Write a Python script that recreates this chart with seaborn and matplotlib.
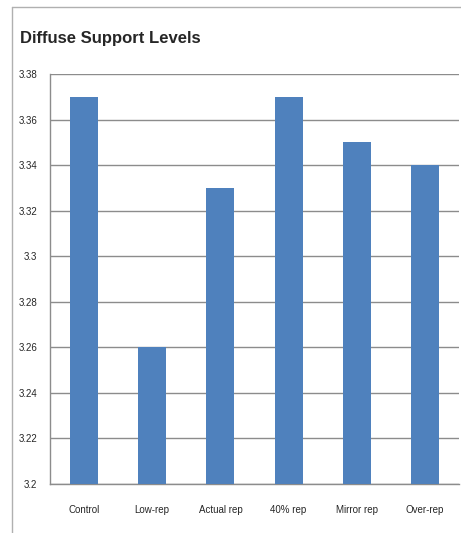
import matplotlib
matplotlib.use('Agg')
import matplotlib.pyplot as plt
import seaborn as sns
import pandas as pd
from matplotlib.lines import Line2D

# chart data
groups = ['Control', 'Low-rep', 'Actual rep', '40% rep', 'Mirror rep', 'Over-rep']
support = [3.37, 3.26, 3.33, 3.37, 3.35, 3.34]
yticks = [3.2, 3.22, 3.24, 3.26, 3.28, 3.3, 3.32, 3.34, 3.36, 3.38]

df = pd.DataFrame({'Group': groups, 'Support': support})

sns.set_style('white')
plt.rcParams['font.family'] = ['Liberation Sans', 'DejaVu Sans']

fig = plt.figure(figsize=(4.61, 5.33), dpi=100)
ax = fig.add_axes([0.1085, 0.092, 0.887, 0.769])

sns.barplot(x='Group', y='Support', data=df, color='#4F81BD', width=0.41,
            saturation=1, linewidth=0, ax=ax, zorder=3)

ax.set_ylim(3.2, 3.38)
ax.set_yticks(yticks)
ax.set_yticklabels(['%g' % t for t in yticks], fontsize=7)
ax.yaxis.grid(True, color='#8c8c8c', linewidth=1)
ax.set_axisbelow(True)
ax.set_xlim(-0.5, len(groups) - 0.5)
ax.tick_params(axis='x', length=0, labelsize=7, pad=15)
ax.tick_params(axis='y', length=5, color='#8c8c8c', pad=4)
# tick marks between the categories
ax.set_xticks([i - 0.5 for i in range(len(groups) + 1)], minor=True)
ax.tick_params(axis='x', which='minor', length=5, color='#8c8c8c')
ax.set_xlabel('')
ax.set_ylabel('')

for side in ['top', 'right']:
    ax.spines[side].set_visible(False)
for side in ['left', 'bottom']:
    ax.spines[side].set_color('#8c8c8c')
    ax.spines[side].set_linewidth(1)

fig.text(20 / 461, 1 - 38 / 533, 'Diffuse Support Levels', fontsize=12,
         fontweight='bold', va='center', ha='left')

# outer chart frame, cut off at the right and bottom
fig.add_artist(Line2D([12 / 461, 12 / 461], [0, 1 - 7 / 533],
                      transform=fig.transFigure, color='#b0b0b0', linewidth=1))
fig.add_artist(Line2D([12 / 461, 1], [1 - 7 / 533, 1 - 7 / 533],
                      transform=fig.transFigure, color='#b0b0b0', linewidth=1))

fig.savefig('out.png', dpi=100)
